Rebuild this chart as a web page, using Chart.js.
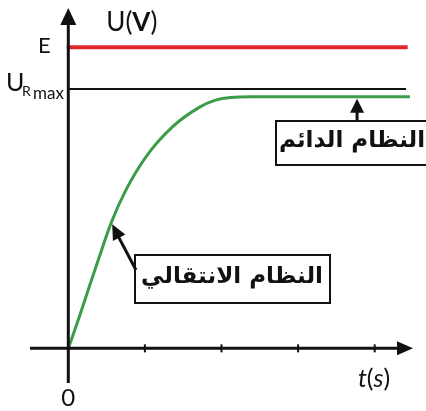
<!DOCTYPE html>
<html>
<head>
<meta charset="utf-8">
<script src="https://cdn.jsdelivr.net/npm/chart.js@4.4.1/dist/chart.umd.min.js"></script>
<style>
  html, body { margin: 0; padding: 0; background: #fff; }
  #wrap { position: relative; width: 426px; height: 411px; }
</style>
</head>
<body>
<div id="wrap"><canvas id="chart" width="426" height="411"></canvas></div>
<script>
"use strict";

// Charge d'un condensateur : tension U_R (régime transitoire puis permanent)
const T_VALUES = [0, 0.144, 0.274, 0.405, 0.557, 0.753, 1.014, 1.363, 1.710, 1.92, 2.12, 2.40, 4.46];
const U_VALUES = [0, 1.05, 2.05, 3.04, 4.15, 5.26, 6.36, 7.36, 8.00, 8.24, 8.33, 8.35, 8.35];

const E_LEVEL   = 10;
const E_RANGE   = [-0.02, 4.43];
const URMAX     = 8.61;
const URMAX_RANGE = [0, 4.41];

const X_TICKS = [1, 2, 3, 4];
const X_MIN = -0.5, X_MAX = 4.5;
const Y_MIN = -1.15, Y_MAX = 11.3;

const LABEL_E      = "E";
const LABEL_ORIGIN = "0";
const LABEL_STEADY    = "النظام الدائم";
const LABEL_TRANSIENT = "النظام الانتقالي";

// points visés par les flèches des encadrés
const STEADY_TARGET    = { t: 3.77, u: 8.35 };
const TRANSIENT_TARGET = { t: 0.56, u: 4.15 };

const COLORS = {
  red:   "#e3262d",
  green: "#3c9c48",
  black: "#111111",
};

const LATIN = "Lato, 'Open Sans', sans-serif";
const ARABIC = "'DejaVu Sans', sans-serif";

function arrowHead(ctx, x1, y1, x2, y2, len, half) {
  const a = Math.atan2(y2 - y1, x2 - x1);
  ctx.beginPath();
  ctx.moveTo(x2, y2);
  ctx.lineTo(x2 - len * Math.cos(a) + half * Math.sin(a), y2 - len * Math.sin(a) - half * Math.cos(a));
  ctx.lineTo(x2 - len * Math.cos(a) - half * Math.sin(a), y2 - len * Math.sin(a) + half * Math.cos(a));
  ctx.closePath();
  ctx.fill();
}

// écrit une suite de morceaux [texte, police] à la suite
function runText(ctx, parts, x, y) {
  parts.forEach(([txt, font]) => {
    ctx.font = font;
    ctx.fillText(txt, x, y);
    x += ctx.measureText(txt).width;
  });
}

const axesPlugin = {
  id: "axes",
  afterDatasetsDraw(chart) {
    const { ctx } = chart;
    const xs = chart.scales.x, ys = chart.scales.y;
    const x0 = xs.getPixelForValue(0), y0 = ys.getPixelForValue(0);
    const xEnd = xs.getPixelForValue(X_MAX), xStart = xs.getPixelForValue(X_MIN);
    const yTop = ys.getPixelForValue(Y_MAX), yBot = ys.getPixelForValue(Y_MIN);

    ctx.save();
    ctx.strokeStyle = COLORS.black;
    ctx.fillStyle = COLORS.black;
    ctx.lineWidth = 3;
    // axe des temps
    ctx.beginPath();
    ctx.moveTo(xStart, y0);
    ctx.lineTo(xEnd - 10, y0);
    ctx.stroke();
    arrowHead(ctx, xStart, y0, xEnd, y0, 16, 7);
    // axe des tensions
    ctx.beginPath();
    ctx.moveTo(x0, yBot);
    ctx.lineTo(x0, yTop + 10);
    ctx.stroke();
    arrowHead(ctx, x0, yBot, x0, yTop, 17, 8);
    // graduations
    ctx.lineWidth = 2;
    X_TICKS.forEach(t => {
      const px = xs.getPixelForValue(t);
      ctx.beginPath();
      ctx.moveTo(px, y0 - 4);
      ctx.lineTo(px, y0 + 4);
      ctx.stroke();
    });

    // étiquettes
    ctx.textBaseline = "alphabetic";
    ctx.textAlign = "left";
    const yE = ys.getPixelForValue(E_LEVEL);
    ctx.font = `22px ${LATIN}`;
    ctx.fillText(LABEL_E, 38, yE + 6);

    const yR = ys.getPixelForValue(URMAX);
    ctx.font = `25px ${LATIN}`;
    ctx.fillText("U", 6, yR + 2);
    ctx.font = `14px ${LATIN}`;
    ctx.fillText("R", 22, yR + 7);
    ctx.font = `17px ${LATIN}`;
    ctx.fillText("max", 33, yR + 10);

    runText(ctx, [
      ["U(", `26px ${LATIN}`],
      ["V", `bold 26px ${LATIN}`],
      [")", `26px ${LATIN}`],
    ], x0 + 38, yTop + 23);

    ctx.textAlign = "center";
    ctx.font = `24px ${LATIN}`;
    ctx.fillText(LABEL_ORIGIN, x0, y0 + 58);

    ctx.textAlign = "left";
    runText(ctx, [
      ["t", `italic 25px ${LATIN}`],
      ["(", `25px ${LATIN}`],
      ["s", `italic 25px ${LATIN}`],
      [")", `25px ${LATIN}`],
    ], 358, y0 + 39);

    // encadré régime permanent
    const sx = xs.getPixelForValue(STEADY_TARGET.t);
    const sy = ys.getPixelForValue(STEADY_TARGET.u) + 2;
    ctx.lineWidth = 2;
    ctx.strokeRect(276, 121, 160, 44);
    ctx.lineWidth = 3;
    ctx.beginPath();
    ctx.moveTo(sx, 121);
    ctx.lineTo(sx, sy + 10);
    ctx.stroke();
    arrowHead(ctx, sx, 121, sx, sy, 14, 7);

    // encadré régime transitoire
    const qx = xs.getPixelForValue(TRANSIENT_TARGET.t) + 1;
    const qy = ys.getPixelForValue(TRANSIENT_TARGET.u) + 1;
    ctx.lineWidth = 2;
    ctx.strokeRect(135, 255, 195, 48);
    ctx.lineWidth = 3;
    ctx.beginPath();
    ctx.moveTo(136, 270);
    ctx.lineTo(qx + 5, qy + 10);
    ctx.stroke();
    arrowHead(ctx, 136, 270, qx, qy, 15, 7);

    ctx.font = `bold 23px ${ARABIC}`;
    ctx.direction = "rtl";
    ctx.textAlign = "center";
    ctx.textBaseline = "middle";
    ctx.fillText(LABEL_STEADY, 352, 141);
    ctx.fillText(LABEL_TRANSIENT, 232, 277);
    ctx.restore();
  },
};

const ctx = document.getElementById("chart").getContext("2d");
new Chart(ctx, {
  type: "scatter",
  data: {
    datasets: [
      {
        label: "E",
        data: E_RANGE.map(t => ({ x: t, y: E_LEVEL })),
        showLine: true,
        borderColor: COLORS.red,
        borderWidth: 4,
        pointRadius: 0,
      },
      {
        label: "U_Rmax",
        data: URMAX_RANGE.map(t => ({ x: t, y: URMAX })),
        showLine: true,
        borderColor: COLORS.black,
        borderWidth: 2,
        pointRadius: 0,
      },
      {
        label: "U_R(t)",
        data: T_VALUES.map((t, i) => ({ x: t, y: U_VALUES[i] })),
        showLine: true,
        borderColor: COLORS.green,
        borderWidth: 3,
        pointRadius: 0,
        cubicInterpolationMode: "monotone",
      },
    ],
  },
  options: {
    responsive: false,
    animation: false,
    layout: { padding: { left: 30, right: 13, top: 8, bottom: 28 } },
    plugins: {
      legend: { display: false },
      tooltip: { enabled: false },
    },
    scales: {
      x: { type: "linear", min: X_MIN, max: X_MAX, display: false },
      y: { type: "linear", min: Y_MIN, max: Y_MAX, display: false },
    },
  },
  plugins: [axesPlugin],
});
</script>
</body>
</html>
